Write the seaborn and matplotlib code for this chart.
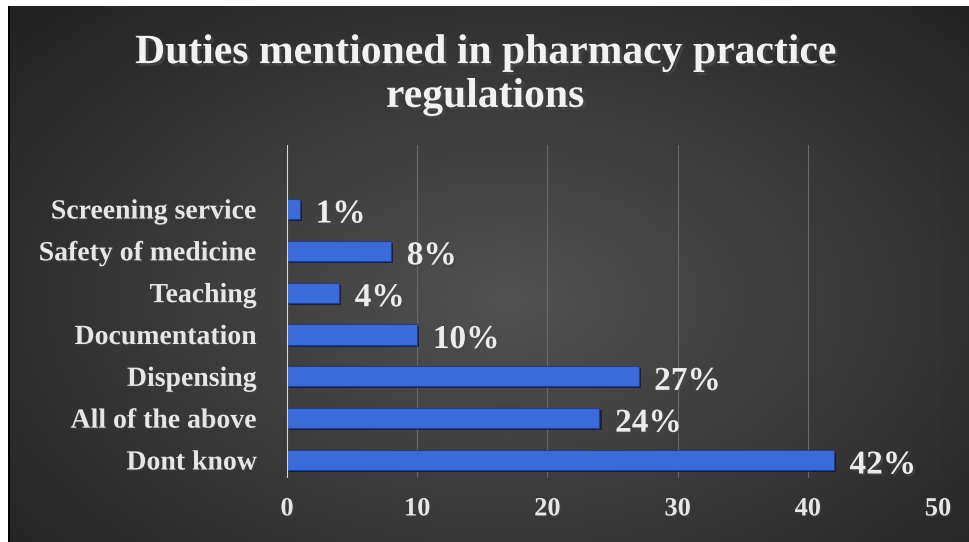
import numpy as np
import pandas as pd
import matplotlib
matplotlib.use("Agg")
import matplotlib.pyplot as plt
import matplotlib.patheffects as pe
import seaborn as sns

categories = ["Screening service", "Safety of medicine", "Teaching", "Documentation",
              "Dispensing", "All of the above", "Dont know"]
values = [1, 8, 4, 10, 27, 24, 42]
labels = ["1%", "8%", "4%", "10%", "27%", "24%", "42%"]
xticks = [0, 10, 20, 30, 40, 50]
title = "Duties mentioned in pharmacy practice\nregulations"

df = pd.DataFrame({"category": categories, "value": values})

sns.set_theme(style="white")
plt.rcParams["font.family"] = ["Liberation Serif", "DejaVu Serif"]

W, H = 970, 542
fig = plt.figure(figsize=(W / 100, H / 100), dpi=100)
fig.patch.set_facecolor("white")

# background panel with radial gradient
bg = fig.add_axes([8 / W, 0, (W - 8) / W, (H - 6) / H])
yy, xx = np.mgrid[0:1:300j, 0:1:540j]
r = np.sqrt(((xx - 0.52) / 0.75) ** 2 + ((yy - 0.55) / 0.85) ** 2)
g = np.clip(0.32 - 0.2 * r, 0.12, 0.32)
img = np.dstack([g, g, g])
bg.imshow(img, aspect="auto", extent=[0, 1, 0, 1], interpolation="bicubic")
bg.set_axis_off()
bg.plot([0.001, 0.001], [0, 1], color="black", lw=1.5, transform=bg.transAxes)

# plot axes
x0, x1 = 287, 938
y0, y1 = 145, 478
ax = fig.add_axes([x0 / W, 1 - y1 / H, (x1 - x0) / W, (y1 - y0) / H])
ax.patch.set_alpha(0)

sns.barplot(data=df, y="category", x="value", orient="h", ax=ax,
            color="#3b6bd8", width=0.48, edgecolor="#1d3f99", linewidth=0.8,
            saturation=1)

ax.set_xlim(0, 50)
ax.set_ylim(6.43, -1.53)
ax.set_xticks(xticks)
ax.set_xticklabels([str(t) for t in xticks])
for t in xticks[1:]:
    ax.axvline(t, color="#6a6a6a", lw=0.8, zorder=0)
ax.axvline(0, color="#d8d8d8", lw=1.5, zorder=3)
for s in ax.spines.values():
    s.set_visible(False)
ax.set_xlabel("")
ax.set_ylabel("")
ax.tick_params(axis="both", length=0)
ax.tick_params(axis="x", pad=14, labelsize=19, labelcolor="#e6e6e6")
ax.tick_params(axis="y", pad=22, labelsize=20, labelcolor="#e6e6e6")
for lab in ax.get_xticklabels() + ax.get_yticklabels():
    lab.set_fontweight("bold")
    lab.set_path_effects([pe.withSimplePatchShadow(offset=(1, -1), alpha=0.5)])

shadow = [pe.withSimplePatchShadow(offset=(1.5, -1.5), shadow_rgbFace="black", alpha=0.5)]
for p in ax.patches:
    p.set_path_effects(shadow)

for i, (v, lab) in enumerate(zip(values, labels)):
    ax.text(v + 1.2, i + 0.12, lab, va="center", ha="left", fontsize=24,
            fontweight="bold", color="#ececec",
            path_effects=[pe.withSimplePatchShadow(offset=(1.5, -1.5), alpha=0.6)])

fig.text(0.5, 1 - 75 / H, title, ha="center", va="center", fontsize=30,
         fontweight="bold", color="#f2f2f2", linespacing=1.2,
         path_effects=[pe.withSimplePatchShadow(offset=(2, -2), alpha=0.7)])
fig.savefig("out.png", dpi=100, facecolor="white")
